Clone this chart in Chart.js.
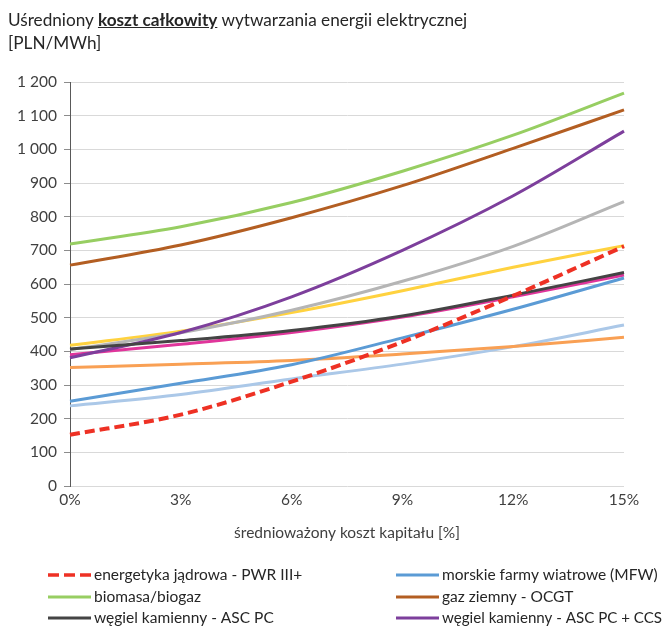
<!DOCTYPE html>
<html lang="pl">
<head>
<meta charset="utf-8">
<title>Uśredniony koszt całkowity wytwarzania energii elektrycznej</title>
<script src="https://cdn.jsdelivr.net/npm/chart.js@4.4.1/dist/chart.umd.min.js"></script>
<style>
  html, body { margin: 0; padding: 0; background: #fff; }
  #wrap { position: relative; width: 664px; height: 626px; font-family: Lato, "Open Sans", sans-serif; }
  #title { position: absolute; left: 8px; top: 8px; font-size: 17.2px; line-height: 23px; color: #262626; white-space: nowrap; }
  #title b { text-decoration: underline; font-weight: 700; }
  #chart { position: absolute; left: 0; top: 0; }
</style>
</head>
<body>
<div id="wrap">
  <canvas id="chart" width="664" height="626"></canvas>
  <div id="title">Uśredniony <b>koszt całkowity</b> wytwarzania energii elektrycznej<br>[PLN/MWh]</div>
</div>
<script>
// Weighted average cost of capital (x axis)
const waccLabels = ['0%', '3%', '6%', '9%', '12%', '15%'];

// Levelised total cost of electricity, PLN/MWh
const nuclearPwr   = [152, 212, 310, 428, 565, 712];
const offshoreWind = [252, 305, 360, 440, 525, 618];
const biomass      = [719, 770, 842, 935, 1042, 1167];
const gasOcgt      = [656, 716, 797, 892, 1003, 1117];
const coalAscPc    = [407, 432, 462, 505, 567, 634];
const coalAscCcs   = [381, 456, 562, 700, 862, 1054];
const seriesGrey   = [405, 455, 522, 608, 712, 845];
const seriesYellow = [418, 460, 515, 580, 650, 714];
const seriesPink   = [390, 421, 456, 502, 562, 627];
const seriesOrange = [352, 362, 373, 392, 414, 442];
const seriesLtBlue = [238, 272, 318, 362, 414, 478];

// Y axis tick values
const costTicks = [0, 100, 200, 300, 400, 500, 600, 700, 800, 900, 1000, 1100, 1200];

const FONT = 'Lato, "Open Sans", sans-serif';
const TXT = 15.5;

function series(label, data, color, order, extra) {
  return Object.assign({
    label, data, borderColor: color, backgroundColor: color,
    borderWidth: 3, pointRadius: 0, pointHoverRadius: 0,
    cubicInterpolationMode: 'monotone', fill: false, order,
    inLegend: false
  }, extra || {});
}

const datasets = [
  series('energetyka jądrowa - PWR III+', nuclearPwr, '#EE3124', 0, { borderDash: [10, 5], borderWidth: 4, inLegend: true, legendSlot: 0 }),
  series('morskie farmy wiatrowe (MFW)', offshoreWind, '#5B9BD5', 5, { inLegend: true, legendSlot: 1 }),
  series('biomasa/biogaz', biomass, '#97CE62', 3, { inLegend: true, legendSlot: 2 }),
  series('gaz ziemny - OCGT', gasOcgt, '#B35E22', 4, { inLegend: true, legendSlot: 3 }),
  series('węgiel kamienny - ASC PC', coalAscPc, '#444444', 1, { inLegend: true, legendSlot: 4 }),
  series('węgiel kamienny - ASC PC + CCS', coalAscCcs, '#7D3F9C', 2, { inLegend: true, legendSlot: 5 }),
  series('grey', seriesGrey, '#B5B5B5', 6),
  series('yellow', seriesYellow, '#FFD23F', 7),
  series('pink', seriesPink, '#E0359B', 8),
  series('orange', seriesOrange, '#F9A054', 9),
  series('lightblue', seriesLtBlue, '#ABC8E8', 10)
];

// Two-column legend drawn under the x axis title
const legendBlock = {
  id: 'legendBlock',
  afterDraw(chart) {
    const ctx = chart.ctx;
    const colX = [48, 396];
    const rowY = [575, 597, 618];
    const maxText = [230, 220];
    ctx.save();
    ctx.font = TXT + 'px ' + FONT;
    ctx.textBaseline = 'middle';
    ctx.fillStyle = '#262626';
    chart.data.datasets.forEach(ds => {
      if (!ds.inLegend) return;
      const col = ds.legendSlot % 2;
      const x = colX[col];
      const y = rowY[Math.floor(ds.legendSlot / 2)];
      ctx.beginPath();
      ctx.strokeStyle = ds.borderColor;
      ctx.lineWidth = ds.borderWidth === 4 ? 3.5 : 3;
      ctx.setLineDash(ds.borderDash ? [11, 5] : []);
      ctx.moveTo(x, y);
      ctx.lineTo(x + 43, y);
      ctx.stroke();
      ctx.setLineDash([]);
      ctx.fillText(ds.label, x + 46, y, maxText[col]);
    });
    ctx.restore();
  }
};

new Chart(document.getElementById('chart'), {
  type: 'line',
  data: { labels: waccLabels, datasets },
  options: {
    responsive: false,
    animation: false,
    events: [],
    layout: { padding: { left: 0, right: 40, top: 82, bottom: 68 } },
    plugins: { legend: { display: false }, tooltip: { enabled: false } },
    scales: {
      x: {
        type: 'category',
        offset: false,
        grid: { display: false, drawTicks: false },
        border: { display: false },
        ticks: { color: '#404040', font: { family: FONT, size: TXT }, padding: 5, maxRotation: 0 },
        title: { display: true, text: 'średnioważony koszt kapitału [%]', color: '#404040', font: { family: FONT, size: TXT }, padding: { top: 4, bottom: 16 } },
        afterFit(scale) { scale.height = 72; }
      },
      y: {
        min: 0, max: 1200,
        afterBuildTicks(scale) { scale.ticks = costTicks.map(v => ({ value: v })); },
        grid: { color: '#D9D9D9', lineWidth: 1, tickLength: 6, tickColor: '#8C8C8C' },
        border: { display: true, color: '#595959', width: 1 },
        ticks: {
          color: '#404040', font: { family: FONT, size: TXT }, padding: 7,
          callback: v => String(v).replace(/\B(?=(\d{3})+(?!\d))/g, ' ')
        },
        afterFit(scale) { scale.width = 70; }
      }
    }
  },
  plugins: [legendBlock]
});
</script>
</body>
</html>
